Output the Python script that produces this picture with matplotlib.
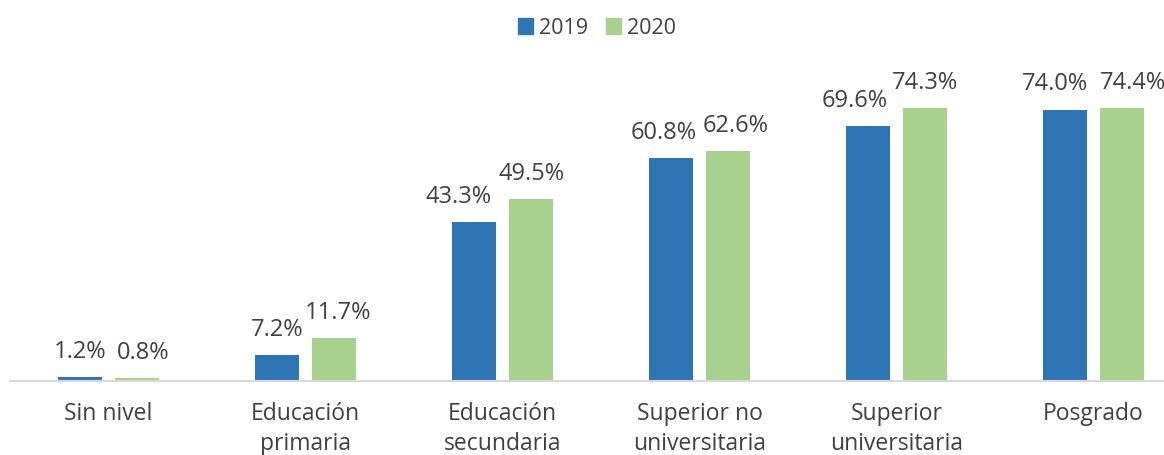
import numpy as np
import matplotlib
matplotlib.use("Agg")
import matplotlib.pyplot as plt
from matplotlib.patches import Patch

categories = ["Sin nivel", "Educación\nprimaria", "Educación\nsecundaria",
              "Superior no\nuniversitaria", "Superior\nuniversitaria", "Posgrado"]
vals_2019 = [1.2, 7.2, 43.3, 60.8, 69.6, 74.0]
vals_2020 = [0.8, 11.7, 49.5, 62.6, 74.3, 74.4]
series_names = ["2019", "2020"]

# small horizontal nudges (px) for the value labels, like Excel does
nudge_2019 = [0, 0, -15, -7, -13, -10]
nudge_2020 = [6, 4, 0, 8, 0, 11]

blue = "#2E75B6"
green = "#A9D18E"
text_c = "#404040"

plt.rcParams["font.family"] = ["Open Sans", "DejaVu Sans"]

fig = plt.figure(figsize=(11.64, 4.55), dpi=100)
W, H = 1164, 455
ax = fig.add_axes([10 / W, 74 / H, 1154 / W, 321 / H])

x = np.arange(len(categories))
bw = 0.225
off = 0.145
b1 = ax.bar(x - off, vals_2019, bw, color=blue)
b2 = ax.bar(x + off, vals_2020, bw, color=green)

for bars, vals, nudges in ((b1, vals_2019, nudge_2019), (b2, vals_2020, nudge_2020)):
    for rect, v, dx in zip(bars, vals, nudges):
        ax.annotate(f"{v:.1f}%", (rect.get_x() + rect.get_width() / 2, v),
                    xytext=(dx * 0.72, 13.7), textcoords="offset points",
                    ha="center", va="baseline", fontsize=17, color=text_c)

ax.set_xlim(-0.5, -0.5 + 1154 / 197)
ax.set_ylim(0, 87.5)
ax.set_yticks([])
ax.set_xticks(x)
ax.set_xticklabels(categories, fontsize=16.5, color=text_c, linespacing=1.35)
ax.tick_params(axis="x", length=0, pad=15)
for s in ["top", "right", "left"]:
    ax.spines[s].set_visible(False)
ax.spines["bottom"].set_color("#D9D9D9")
ax.spines["bottom"].set_linewidth(1.5)

handles = [Patch(color=blue), Patch(color=green)]
fig.legend(handles, series_names, loc="center", bbox_to_anchor=(597 / W, 1 - 28 / H),
           ncol=2, frameon=False, fontsize=15.5, handlelength=0.7, handleheight=0.7,
           handletextpad=0.3, columnspacing=0.8, labelcolor=text_c)

fig.savefig("out.png", dpi=100)
